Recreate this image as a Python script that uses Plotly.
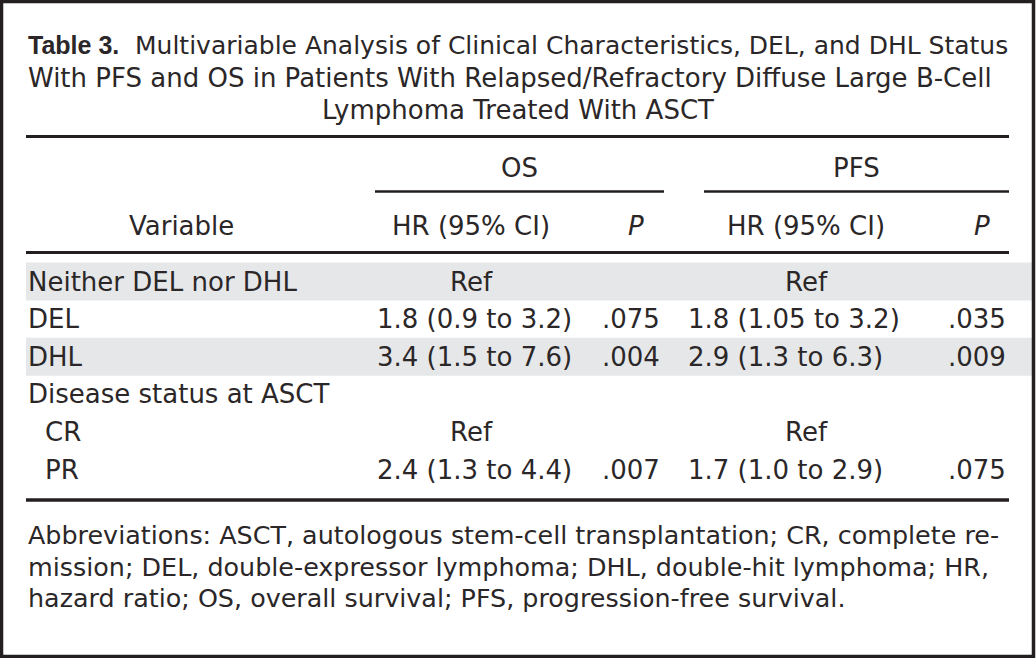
import plotly.graph_objects as go

# ---- data ----
title_label = "Table 3."
title_lines = [
    "Multivariable Analysis of Clinical Characteristics, DEL, and DHL Status",
    "With PFS and OS in Patients With Relapsed/Refractory Diffuse Large B-Cell",
    "Lymphoma Treated With ASCT",
]
group_headers = ["OS", "PFS"]
sub_headers = ["Variable", "HR (95% CI)", "<i>P</i>", "HR (95% CI)", "<i>P</i>"]
variables = ["Neither DEL nor DHL", "DEL", "DHL", "Disease status at ASCT", "CR", "PR"]
indent = [0, 0, 0, 0, 1, 1]
shaded = [True, False, True, False, False, False]
os_hr = ["Ref", "1.8 (0.9 to 3.2)", "3.4 (1.5 to 7.6)", "", "Ref", "2.4 (1.3 to 4.4)"]
os_p = ["", ".075", ".004", "", "", ".007"]
pfs_hr = ["Ref", "1.8 (1.05 to 3.2)", "2.9 (1.3 to 6.3)", "", "Ref", "1.7 (1.0 to 2.9)"]
pfs_p = ["", ".035", ".009", "", "", ".075"]
footnote_lines = [
    "Abbreviations: ASCT, autologous stem-cell transplantation; CR, complete re-",
    "mission; DEL, double-expressor lymphoma; DHL, double-hit lymphoma; HR,",
    "hazard ratio; OS, overall survival; PFS, progression-free survival.",
]

# ---- style / layout ----
W, H = 1036, 658
FONT = "DejaVu Sans, Liberation Sans, sans-serif"
BOLD_FONT = "Liberation Sans, Arial, sans-serif"
FS = 26
TXT = "#2b2728"
LINE = "#231f20"
SHADE = "#e6e7e8"

fig = go.Figure()
fig.add_trace(go.Scatter(x=[0, W], y=[0, H], mode="markers",
                         marker=dict(opacity=0), hoverinfo="skip", showlegend=False))

shapes = []
annots = []

def txt(x, y, s, anchor="left", size=FS, family=FONT):
    annots.append(dict(x=x, y=y, xref="x", yref="y", text=s, showarrow=False,
                       xanchor=anchor, yanchor="middle",
                       font=dict(family=family, size=size, color=TXT)))

def hline(x0, x1, y, w):
    shapes.append(dict(type="line", xref="x", yref="y", x0=x0, x1=x1, y0=y, y1=y,
                       line=dict(color=LINE, width=w), layer="above"))

# border
shapes.append(dict(type="rect", xref="x", yref="y", x0=1.5, x1=W - 2.5, y0=1.5, y1=H - 1.5,
                   line=dict(color=LINE, width=3.5)))

L, R = 26, 1009
# title
txt(L, 45, "<b>" + title_label + "</b>", size=25, family=BOLD_FONT)
txt(133, 45, title_lines[0], size=25)
txt(L, 78, title_lines[1])
txt(518, 110, title_lines[2], anchor="center")

hline(L, R, 136.5, 3)

# group headers
os_x0, os_x1 = 375, 664
pfs_x0, pfs_x1 = 704, R
txt((os_x0 + os_x1) / 2, 168, group_headers[0], anchor="center")
txt((pfs_x0 + pfs_x1) / 2, 168, group_headers[1], anchor="center")
hline(os_x0, os_x1, 191.5, 2.5)
hline(pfs_x0, pfs_x1, 191.5, 2.5)

# sub headers
col_hr_c = [471, 806]
col_hr_l = [375, 686]
col_p_r = [662, 1008]
col_p_c = [636, 982]
txt(181, 226, sub_headers[0], anchor="center")
txt(col_hr_c[0], 226, sub_headers[1], anchor="center")
txt(col_p_c[0], 226, sub_headers[2], anchor="center")
txt(col_hr_c[1], 226, sub_headers[3], anchor="center")
txt(col_p_c[1], 226, sub_headers[4], anchor="center")
hline(L, R, 252.5, 3)

row_y0 = 281.5
row_step = 37.6
for i, v in enumerate(variables):
    y = row_y0 + i * row_step
    if shaded[i]:
        shapes.append(dict(type="rect", xref="x", yref="y", x0=L, x1=W - 4,
                           y0=y - 19, y1=y + 19, fillcolor=SHADE, line=dict(width=0),
                           layer="below"))
    txt(L + 17 * indent[i], y, v)
    for k, (hr, p) in enumerate([(os_hr[i], os_p[i]), (pfs_hr[i], pfs_p[i])]):
        if hr == "Ref":
            txt(col_hr_c[k], y, hr, anchor="center")
        elif hr:
            txt(col_hr_l[k], y, hr, anchor="left")
        if p:
            txt(col_p_r[k], y, p, anchor="right")

hline(L, R, 500, 3.5)

for j, line in enumerate(footnote_lines):
    txt(L, 535 + j * 31.5, line, size=25.4)

fig.update_layout(
    width=W, height=H, margin=dict(l=0, r=0, t=0, b=0),
    paper_bgcolor="white", plot_bgcolor="white",
    xaxis=dict(range=[0, W], visible=False, fixedrange=True),
    yaxis=dict(range=[H, 0], visible=False, fixedrange=True),
    shapes=shapes, annotations=annots, showlegend=False,
)
fig.write_html("out.html", config={"displayModeBar": False},
               post_script="document.body.style.margin='0';document.body.style.overflow='hidden';")
